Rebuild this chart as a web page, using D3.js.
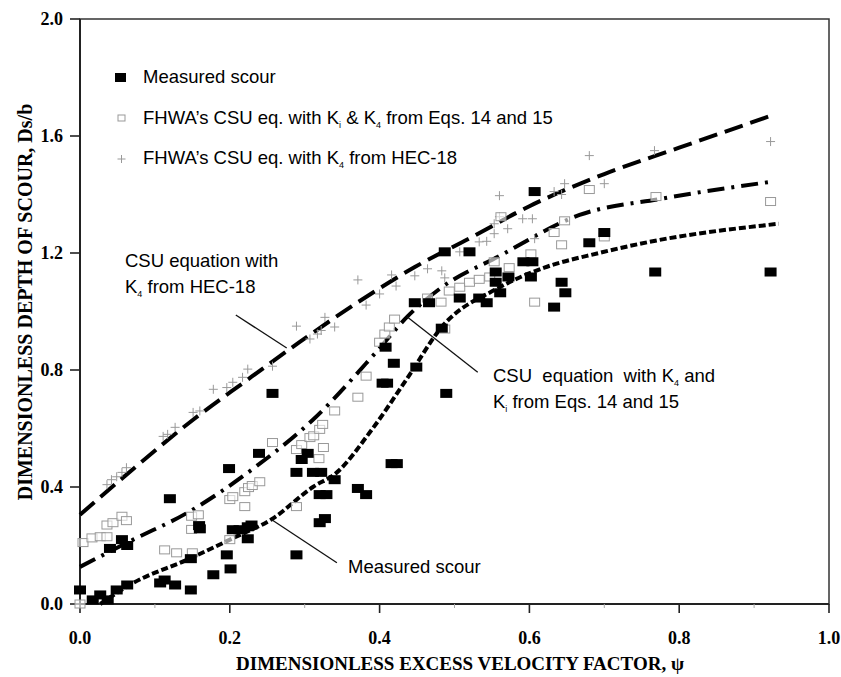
<!DOCTYPE html>
<html>
<head>
<meta charset="utf-8">
<script src="https://cdn.jsdelivr.net/npm/d3@7"></script>
<style>
  body { margin: 0; background: #fff; }
  .tick-lab { font-family: "Liberation Serif", "Times New Roman", serif; font-weight: bold; font-size: 18px; }
  .title { font-family: "Liberation Serif", "Times New Roman", serif; font-weight: bold; font-size: 19px; }
  .note { font-family: "Liberation Sans", Arial, sans-serif; font-size: 18.5px; }
</style>
</head>
<body>
<div id="chart"></div>
<script>
// Measured scour (filled squares)
const measured = [
  [0.00,0.048],[0.017,0.014],[0.027,0.031],[0.037,0.014],[0.049,0.048],[0.063,0.065],
  [0.04,0.19],[0.056,0.22],[0.063,0.20],[0.12,0.36],[0.107,0.072],[0.113,0.082],
  [0.127,0.065],[0.148,0.048],[0.148,0.155],[0.159,0.268],[0.16,0.257],[0.178,0.10],
  [0.196,0.168],[0.201,0.12],[0.199,0.463],[0.204,0.254],[0.213,0.254],[0.224,0.264],
  [0.229,0.27],[0.224,0.223],[0.239,0.515],[0.257,0.72],[0.289,0.168],[0.289,0.45],
  [0.296,0.494],[0.304,0.515],[0.311,0.45],[0.322,0.45],[0.32,0.374],[0.329,0.374],
  [0.32,0.278],[0.327,0.292],[0.34,0.425],[0.371,0.395],[0.382,0.374],[0.416,0.48],
  [0.423,0.48],[0.404,0.755],[0.41,0.755],[0.489,0.72],[0.408,0.878],[0.419,0.823],
  [0.449,0.81],[0.447,1.03],[0.466,1.03],[0.483,0.943],[0.487,1.204],[0.52,1.204],
  [0.507,1.046],[0.533,1.046],[0.543,1.03],[0.555,1.135],[0.555,1.10],[0.572,1.118],
  [0.561,1.064],[0.592,1.17],[0.604,1.17],[0.602,1.118],[0.607,1.41],[0.643,1.10],
  [0.648,1.064],[0.633,1.015],[0.68,1.235],[0.70,1.27],[0.768,1.135],[0.922,1.135]
];

// FHWA's CSU eq. with Ki & K4 from Eqs. 14 and 15 (open squares)
const csuKiK4 = [
  [0.0,0.0],[0.004,0.21],[0.016,0.226],[0.027,0.23],[0.036,0.27],[0.044,0.278],[0.056,0.30],
  [0.062,0.285],[0.036,0.23],[0.113,0.185],[0.129,0.175],[0.149,0.30],[0.149,0.255],
  [0.158,0.305],[0.15,0.175],[0.2,0.357],[0.204,0.367],[0.22,0.333],[0.22,0.384],
  [0.225,0.398],[0.23,0.405],[0.24,0.418],[0.2,0.22],[0.257,0.552],[0.289,0.333],
  [0.289,0.528],[0.296,0.545],[0.307,0.569],[0.312,0.575],[0.32,0.597],[0.324,0.614],
  [0.325,0.535],[0.319,0.497],[0.34,0.66],[0.371,0.707],[0.382,0.779],[0.40,0.895],
  [0.407,0.923],[0.413,0.947],[0.42,0.974],[0.464,1.046],[0.482,1.032],[0.493,1.07],
  [0.507,1.083],[0.52,1.10],[0.533,1.11],[0.553,1.17],[0.487,0.94],[0.562,1.324],
  [0.68,1.417],[0.647,1.31],[0.633,1.27],[0.643,1.228],[0.602,1.197],[0.573,1.15],
  [0.547,1.118],[0.607,1.032],[0.70,1.255],[0.769,1.393],[0.922,1.376]
];

// FHWA's CSU eq. with K4 from HEC-18 (plus signs)
const csuHec18 = [
  [0.036,0.408],[0.042,0.425],[0.049,0.435],[0.056,0.45],[0.062,0.466],[0.111,0.573],
  [0.117,0.58],[0.127,0.604],[0.151,0.655],[0.16,0.66],[0.178,0.734],[0.196,0.74],
  [0.204,0.758],[0.217,0.775],[0.224,0.803],[0.257,0.813],[0.289,0.95],[0.307,0.906],
  [0.317,0.923],[0.322,0.935],[0.327,0.98],[0.34,0.947],[0.371,1.108],[0.382,1.022],
  [0.40,1.06],[0.416,1.125],[0.422,1.087],[0.447,1.122],[0.464,1.146],[0.483,1.139],
  [0.487,1.115],[0.507,1.204],[0.533,1.238],[0.543,1.24],[0.553,1.30],[0.56,1.324],
  [0.68,1.533],[0.56,1.396],[0.647,1.437],[0.70,1.437],[0.633,1.41],[0.643,1.40],
  [0.591,1.317],[0.604,1.317],[0.571,1.283],[0.553,1.266],[0.607,1.249],[0.767,1.55],
  [0.922,1.581]
];

// fitted curves
const fitHec18 = [[0,0.305],[0.073,0.466],[0.151,0.63],[0.22,0.76],[0.293,0.895],[0.37,1.03],
  [0.447,1.152],[0.52,1.25],[0.6,1.36],[0.7,1.47],[0.8,1.56],[0.92,1.667]];
const fitKiK4 = [[0,0.127],[0.071,0.22],[0.142,0.31],[0.235,0.47],[0.311,0.63],[0.395,0.86],
  [0.438,0.985],[0.48,1.077],[0.56,1.19],[0.667,1.33],[0.777,1.386],[0.924,1.444]];
const fitMeasured = [[0.027,0.0],[0.071,0.072],[0.142,0.15],[0.205,0.226],[0.256,0.29],
  [0.311,0.40],[0.343,0.45],[0.387,0.587],[0.436,0.768],[0.484,0.95],[0.556,1.077],
  [0.62,1.15],[0.693,1.20],[0.76,1.238],[0.933,1.30]];

const xTicks = [0.0, 0.2, 0.4, 0.6, 0.8, 1.0];
const xMinor = [0.1, 0.3, 0.5, 0.7, 0.9];
const yTicks = [0.0, 0.4, 0.8, 1.2, 1.6, 2.0];

const W = 841, H = 677;
const svg = d3.select("#chart").append("svg")
  .attr("width", W).attr("height", H);

const x = d3.scaleLinear().domain([0, 1]).range([80, 829]);
const y = d3.scaleLinear().domain([0, 2]).range([604, 19]);

// frame
svg.append("rect")
  .attr("x", x(0)).attr("y", y(2))
  .attr("width", x(1) - x(0)).attr("height", y(0) - y(2))
  .attr("fill", "none").attr("stroke", "#333").attr("stroke-width", 1.5);

// axes
svg.append("line").attr("x1", x(0)).attr("x2", x(0)).attr("y1", y(2)).attr("y2", y(0))
  .attr("stroke", "#222").attr("stroke-width", 2);
svg.append("line").attr("x1", x(0)).attr("x2", x(1)).attr("y1", y(0)).attr("y2", y(0))
  .attr("stroke", "#222").attr("stroke-width", 2);

svg.selectAll(".ytick").data(yTicks).join("line")
  .attr("x1", x(0) - 10).attr("x2", x(0))
  .attr("y1", d => y(d)).attr("y2", d => y(d))
  .attr("stroke", "#222").attr("stroke-width", 1.6);
svg.selectAll(".ylab").data(yTicks).join("text")
  .attr("class", "tick-lab")
  .attr("x", x(0) - 17).attr("y", d => y(d) + 6)
  .attr("text-anchor", "end")
  .text(d => d.toFixed(1));

svg.selectAll(".xtick").data(xTicks).join("line")
  .attr("x1", d => x(d)).attr("x2", d => x(d))
  .attr("y1", y(0)).attr("y2", y(0) + 9)
  .attr("stroke", "#222").attr("stroke-width", 1.6);
svg.selectAll(".xminor").data(xMinor).join("line")
  .attr("x1", d => x(d)).attr("x2", d => x(d))
  .attr("y1", y(0)).attr("y2", y(0) + 4)
  .attr("stroke", "#aaa").attr("stroke-width", 1);
svg.selectAll(".xlab").data(xTicks).join("text")
  .attr("class", "tick-lab")
  .attr("x", d => x(d)).attr("y", y(0) + 40)
  .attr("text-anchor", "middle")
  .text(d => d.toFixed(1));

// axis titles
svg.append("text").attr("class", "title")
  .attr("x", 460).attr("y", 670).attr("text-anchor", "middle")
  .text("DIMENSIONLESS EXCESS VELOCITY FACTOR, \u03C8");
svg.append("text").attr("class", "title")
  .attr("font-size", 20)
  .style("font-size", "20px")
  .attr("transform", "translate(32,302) rotate(-90)").attr("text-anchor", "middle")
  .text("DIMENSIONLESS DEPTH OF SCOUR, Ds/b");

// fitted lines
const line = d3.line().x(d => x(d[0])).y(d => y(d[1])).curve(d3.curveMonotoneX);
svg.append("path").datum(fitHec18).attr("d", line)
  .attr("fill", "none").attr("stroke", "#000").attr("stroke-width", 4)
  .attr("stroke-dasharray", "19,8");
svg.append("path").datum(fitKiK4).attr("d", line)
  .attr("fill", "none").attr("stroke", "#000").attr("stroke-width", 4)
  .attr("stroke-dasharray", "17,7,3,7");
svg.append("path").datum(fitMeasured).attr("d", line)
  .attr("fill", "none").attr("stroke", "#000").attr("stroke-width", 4)
  .attr("stroke-dasharray", "7,3");

// scatter
const plus = (sel, px, py, r) => sel.append("path")
  .attr("d", `M${px - r},${py}H${px + r}M${px},${py - r}V${py + r}`)
  .attr("stroke", "#999").attr("stroke-width", 1).attr("fill", "none");

const gPlus = svg.append("g");
csuHec18.forEach(d => plus(gPlus, x(d[0]), y(d[1]), 4.5));

svg.append("g").selectAll("rect").data(csuKiK4).join("rect")
  .attr("x", d => x(d[0]) - 5).attr("y", d => y(d[1]) - 4)
  .attr("width", 10).attr("height", 8)
  .attr("fill", "#fff").attr("fill-opacity", 0.6)
  .attr("stroke", "#999").attr("stroke-width", 1);

svg.append("g").selectAll("rect").data(measured).join("rect")
  .attr("x", d => x(d[0]) - 6).attr("y", d => y(d[1]) - 4.5)
  .attr("width", 12).attr("height", 9)
  .attr("fill", "#000");

// legend
const lg = svg.append("g");
lg.append("rect").attr("x", 115).attr("y", 73).attr("width", 11).attr("height", 9).attr("fill", "#000");
lg.append("rect").attr("x", 118).attr("y", 115).attr("width", 7).attr("height", 6)
  .attr("fill", "none").attr("stroke", "#999");
plus(lg, 121.5, 159, 4);

lg.append("text").attr("class", "note").attr("x", 143).attr("y", 83).text("Measured scour");
const t2 = lg.append("text").attr("class", "note").attr("x", 143).attr("y", 124);
t2.append("tspan").text("FHWA\u2019s CSU eq. with K");
t2.append("tspan").attr("font-size", 9).style("font-size", "9px").attr("dy", 4).text("i");
t2.append("tspan").attr("dy", -4).text(" & K");
t2.append("tspan").attr("font-size", 9).style("font-size", "9px").attr("dy", 4).text("4");
t2.append("tspan").attr("dy", -4).text(" from Eqs. 14 and 15");
const t3 = lg.append("text").attr("class", "note").attr("x", 143).attr("y", 164);
t3.append("tspan").text("FHWA\u2019s CSU eq. with K");
t3.append("tspan").attr("font-size", 9).style("font-size", "9px").attr("dy", 4).text("4");
t3.append("tspan").attr("dy", -4).text(" from HEC-18");

// annotations
const lead = (x1, y1, x2, y2) => svg.append("line")
  .attr("x1", x(x1)).attr("y1", y(y1)).attr("x2", x(x2)).attr("y2", y(y2))
  .attr("stroke", "#111").attr("stroke-width", 1.3);

svg.append("text").attr("class", "note").attr("x", 125).attr("y", 267).text("CSU equation with");
const a2 = svg.append("text").attr("class", "note").attr("x", 125).attr("y", 293);
a2.append("tspan").text("K");
a2.append("tspan").attr("font-size", 9).style("font-size", "9px").attr("dy", 4).text("4");
a2.append("tspan").attr("dy", -4).text(" from HEC-18");
lead(0.208, 0.988, 0.276, 0.875);

const b1 = svg.append("text").attr("class", "note").attr("x", 493).attr("y", 382)
  .attr("xml:space", "preserve");
b1.append("tspan").text("CSU  equation  with K");
b1.append("tspan").attr("font-size", 9).style("font-size", "9px").attr("dy", 4).text("4");
b1.append("tspan").attr("dy", -4).text(" and");
const b2 = svg.append("text").attr("class", "note").attr("x", 493).attr("y", 408);
b2.append("tspan").text("K");
b2.append("tspan").attr("font-size", 9).style("font-size", "9px").attr("dy", 4).text("i");
b2.append("tspan").attr("dy", -4).text(" from Eqs. 14 and 15");
lead(0.437, 0.981, 0.531, 0.792);

svg.append("text").attr("class", "note").attr("x", 348).attr("y", 573).text("Measured scour");
lead(0.256, 0.288, 0.343, 0.141);
</script>
</body>
</html>
